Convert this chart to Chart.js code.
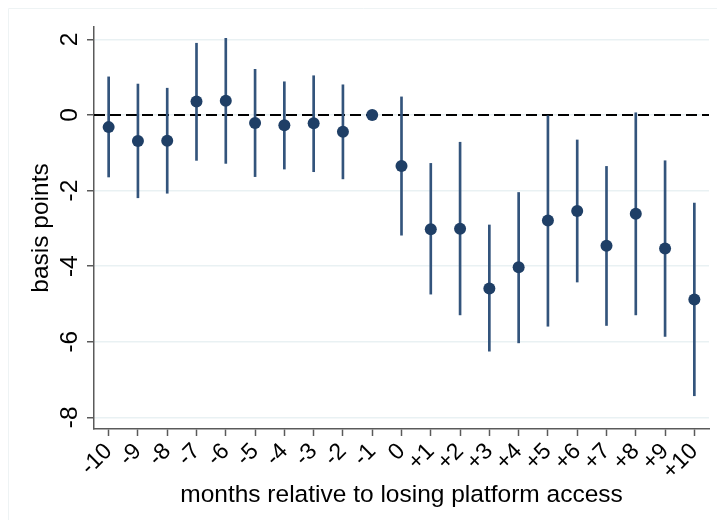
<!DOCTYPE html>
<html>
<head>
<meta charset="utf-8">
<title>basis points by month</title>
<script src="https://cdn.jsdelivr.net/npm/chart.js@4"></script>
<style>
  html, body { margin: 0; padding: 0; background: #fff; }
  #wrap { width: 717px; height: 520px; }
</style>
</head>
<body>
<div id="wrap"><canvas id="eventChart" width="717" height="520"></canvas></div>
<script>
// months around the loss of platform access, point estimates and 95% bands
const months = ['-10', '-9', '-8', '-7', '-6', '-5', '-4', '-3', '-2', '-1', '0',
    '+1', '+2', '+3', '+4', '+5', '+6', '+7', '+8', '+9', '+10'];
const estimates = [-0.32, -0.69, -0.68, 0.36, 0.38, -0.21, -0.27, -0.22, -0.44, 0, -1.35,
    -3.02, -3.01, -4.59, -4.03, -2.79, -2.54, -3.46, -2.61, -3.53, -4.88];
const ciLower = [-1.64, -2.19, -2.07, -1.20, -1.28, -1.63, -1.43, -1.50, -1.69, null, -3.18,
    -4.74, -5.29, -6.25, -6.03, -5.59, -4.42, -5.57, -5.29, -5.86, -7.43];
const ciUpper = [1.01, 0.82, 0.71, 1.90, 2.03, 1.21, 0.88, 1.04, 0.80, null, 0.48,
    -1.28, -0.72, -2.91, -2.05, 0.00, -0.66, -1.36, 0.06, -1.21, -2.33];
const yTicks = [-8, -6, -4, -2, 0, 2];

const FONT = "'Liberation Sans', Arial, Helvetica, sans-serif";
const NAVY = '#1f3f66';
const BAR = '#33547c';
const AXIS = '#5a5a5a';
const GRID = '#e9f1f3';

// floating bars hold the confidence bands
const bands = months.map((m, i) => ciLower[i] === null ? null : [ciLower[i], ciUpper[i]]);

// dashed reference line at zero and the faint graph frame
const zeroLine = {
    id: 'zeroLine',
    beforeDraw(chart) {
        const ctx = chart.ctx;
        ctx.save();
        ctx.strokeStyle = '#eef3f4';
        ctx.lineWidth = 1;
        ctx.beginPath();
        ctx.moveTo(8.5, 720);
        ctx.lineTo(8.5, 8.5);
        ctx.lineTo(917, 8.5);
        ctx.stroke();
        ctx.restore();
    },
    beforeDatasetsDraw(chart) {
        const { ctx, chartArea, scales } = chart;
        const y = scales.y.getPixelForValue(0);
        ctx.save();
        ctx.strokeStyle = '#000';
        ctx.lineWidth = 2;
        ctx.setLineDash([11, 5]);
        ctx.beginPath();
        ctx.moveTo(chartArea.left, y);
        ctx.lineTo(chartArea.right, y);
        ctx.stroke();
        ctx.restore();
    }
};

new Chart(document.getElementById('eventChart'), {
    data: {
        labels: months,
        datasets: [{
            type: 'line',
            data: estimates,
            showLine: false,
            pointRadius: 6,
            pointBackgroundColor: NAVY,
            pointBorderWidth: 0,
            order: 0
        }, {
            type: 'bar',
            data: bands,
            backgroundColor: BAR,
            borderWidth: 0,
            barThickness: 2,
            order: 1
        }]
    },
    options: {
        responsive: false,
        animation: false,
        layout: { padding: { top: 27, right: 8, left: 0, bottom: 0 } },
        plugins: {
            legend: { display: false },
            tooltip: { enabled: false }
        },
        scales: {
            x: {
                type: 'category',
                offset: true,
                grid: {
                    offset: false,
                    drawOnChartArea: false,
                    tickLength: 7,
                    tickColor: AXIS,
                    tickWidth: 1.5
                },
                border: { color: AXIS, width: 1.5 },
                ticks: {
                    autoSkip: false,
                    minRotation: 45,
                    maxRotation: 45,
                    padding: 2,
                    color: '#000',
                    font: { family: FONT, size: 23 }
                },
                title: {
                    display: true,
                    text: 'months relative to losing platform access',
                    color: '#000',
                    font: { family: FONT, size: 24.5 },
                    padding: { top: 0, bottom: 10 }
                },
                afterFit(scale) { scale.height = 91; }
            },
            y: {
                min: -8.31,
                max: 2.33,
                afterBuildTicks(scale) {
                    scale.ticks = yTicks.map(v => ({ value: v }));
                },
                grid: {
                    color: GRID,
                    lineWidth: 1.5,
                    tickLength: 7,
                    tickColor: AXIS,
                    tickWidth: 1.5
                },
                border: { color: AXIS, width: 1.5 },
                ticks: {
                    minRotation: 90,
                    maxRotation: 90,
                    crossAlign: 'center',
                    padding: 6,
                    color: '#000',
                    font: { family: FONT, size: 24.5 }
                },
                title: {
                    display: true,
                    text: 'basis points',
                    color: '#000',
                    font: { family: FONT, size: 24.5 },
                    padding: { top: 27, bottom: 0 }
                },
                afterFit(scale) { scale.width = 94; }
            }
        }
    },
    plugins: [zeroLine]
});
</script>
</body>
</html>
